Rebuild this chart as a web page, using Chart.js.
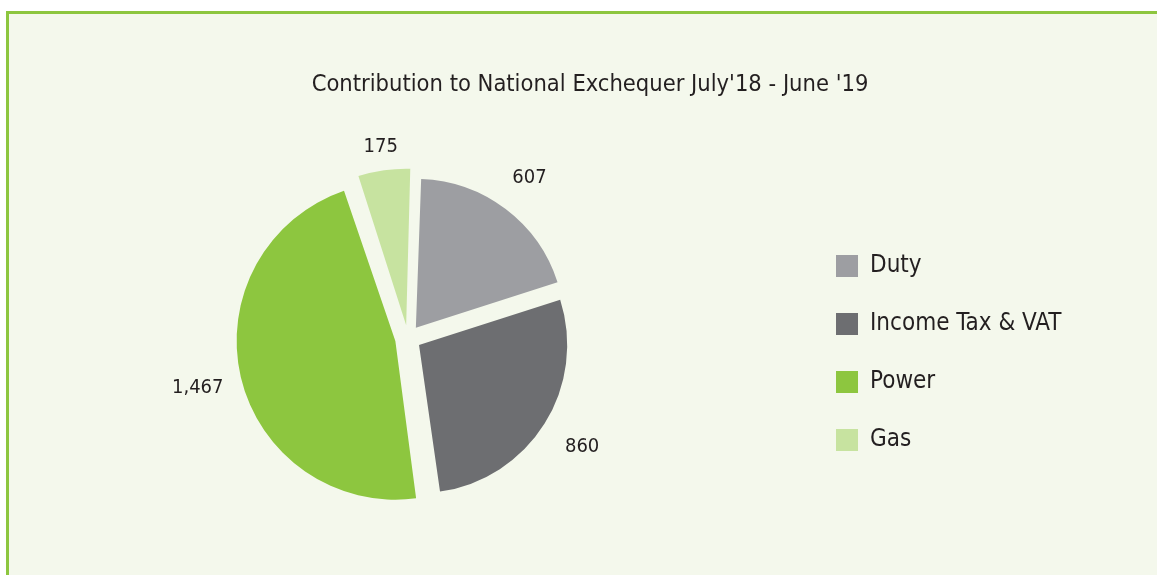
<!DOCTYPE html>
<html>
<head>
<meta charset="utf-8">
<script src="https://cdn.jsdelivr.net/npm/chart.js@4.4.1/dist/chart.umd.min.js"></script>
<style>
  html, body { margin: 0; padding: 0; background: #fff; overflow: hidden; }
  #frame { position: absolute; left: 6px; top: 11px; right: -20px; bottom: -20px; background: #f4f8ec; border-left: 3px solid #8dc63f; border-top: 3px solid #8dc63f; }
  #chart { position: absolute; left: 0; top: 0; }
</style>
</head>
<body>
<div id="frame"></div>
<canvas id="chart" width="1166" height="575"></canvas>
<script>
const chartTitle = "Contribution to National Exchequer July'18 - June '19";
const categories = ['Duty', 'Income Tax & VAT', 'Power', 'Gas'];
const contributions = [607, 860, 1467, 175];
const sliceColors = ['#9d9ea2', '#6d6e71', '#8dc63f', '#c7e3a0'];

const FONT = "'DejaVu Sans Condensed', Roboto, sans-serif";
const TEXT = '#231f20';

Chart.defaults.font.family = FONT;
Chart.defaults.color = TEXT;

// numbers sitting just outside each slice
const sliceValues = {
  id: 'sliceValues',
  afterDatasetsDraw(chart) {
    const ctx = chart.ctx;
    const arcs = chart.getDatasetMeta(0).data;
    ctx.save();
    ctx.font = '20px ' + FONT;
    ctx.fillStyle = TEXT;
    ctx.textAlign = 'center';
    ctx.textBaseline = 'middle';
    arcs.forEach((arc, i) => {
      const mid = (arc.startAngle + arc.endAngle) / 2;
      const text = contributions[i].toLocaleString('en-US');
      const half = ctx.measureText(text).width / 2;
      const r = arc.outerRadius * 1.29 + Math.abs(Math.cos(mid)) * half;
      ctx.fillText(text, arc.x + Math.cos(mid) * r, arc.y + Math.sin(mid) * r);
    });
    ctx.restore();
  }
};

const ctx = document.getElementById('chart').getContext('2d');
const chart = new Chart(ctx, {
  type: 'pie',
  data: {
    labels: categories,
    datasets: [{
      data: contributions,
      backgroundColor: sliceColors,
      borderWidth: 0,
      offset: 52, // chart.js moves the slice by offset / 4 (and grows it by the same)
      clip: false
    }]
  },
  options: {
    responsive: false,
    animation: false,
    rotation: 2,
    radius: 148,
    layout: { padding: { left: 14, right: 0, top: 14, bottom: 89 } },
    plugins: {
      title: {
        display: true,
        text: chartTitle,
        color: TEXT,
        font: { size: 23.5, weight: 'normal' },
        padding: { top: 57, bottom: 90.8 }
      },
      // empty box on the right, keeps the legend over towards the pie
      subtitle: {
        display: true,
        position: 'right',
        text: '',
        font: { size: 10, lineHeight: 1 },
        padding: { top: 42.3, bottom: 42.3 }
      },
      legend: {
        position: 'right',
        align: 'end',
        fullSize: false,
        labels: {
          boxWidth: 22,
          boxHeight: 22,
          padding: 34,
          color: TEXT,
          font: { size: 24 }
        }
      },
      tooltip: { enabled: false }
    }
  },
  plugins: [sliceValues]
});
</script>
</body>
</html>
